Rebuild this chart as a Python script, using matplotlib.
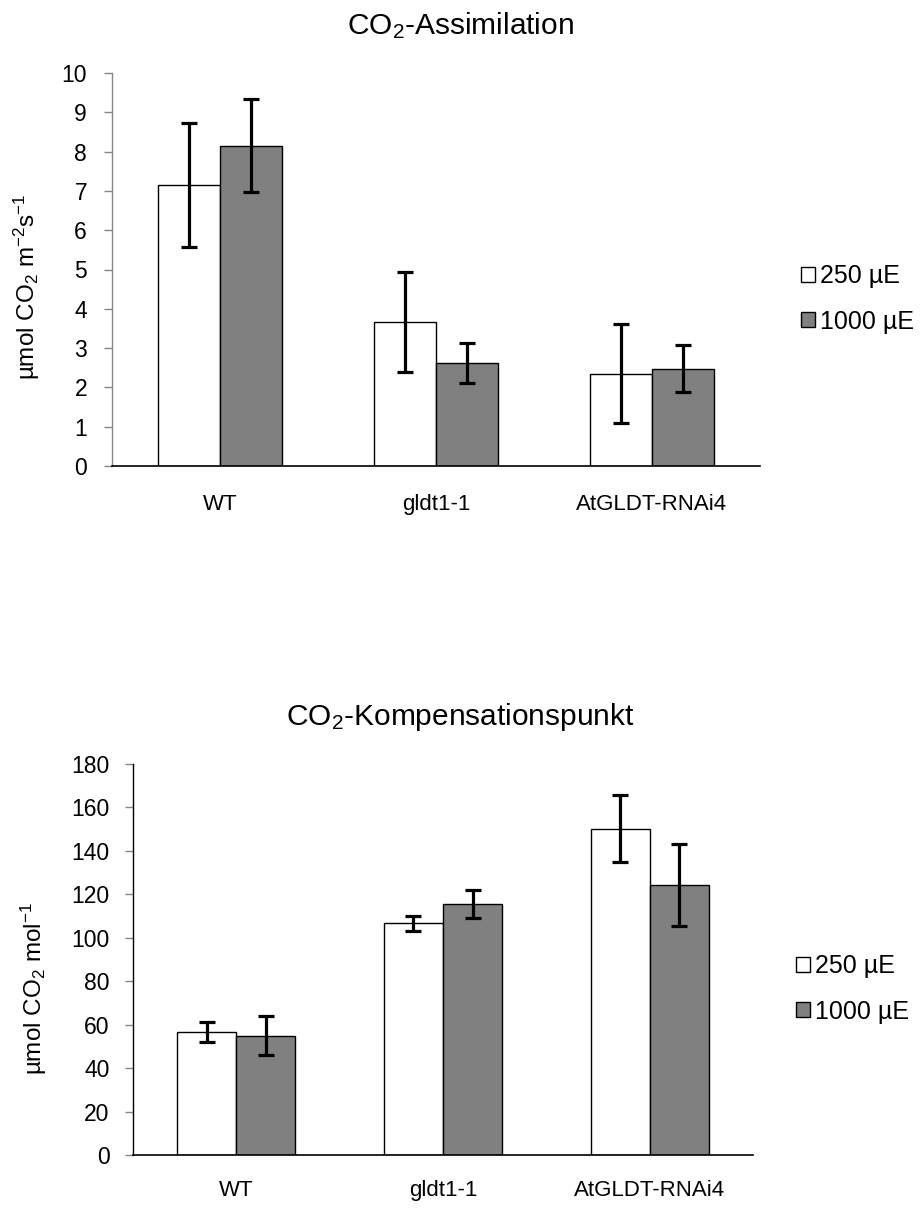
import matplotlib
matplotlib.use("Agg")
import matplotlib.pyplot as plt
from matplotlib.patches import Patch
import numpy as np

plt.rcParams['font.family'] = ['Liberation Sans', 'DejaVu Sans']
plt.rcParams['mathtext.fontset'] = 'custom'
plt.rcParams['mathtext.rm'] = 'Liberation Sans'
plt.rcParams['mathtext.it'] = 'Liberation Sans:italic'
plt.rcParams['mathtext.bf'] = 'Liberation Sans:bold'

categories = ["WT", "gldt1-1", "AtGLDT-RNAi4"]
series_names = ["250 µE", "1000 µE"]

# CO2 assimilation
assim_250 = [7.16, 3.67, 2.35]
assim_250_err = [1.58, 1.27, 1.26]
assim_1000 = [8.15, 2.62, 2.48]
assim_1000_err = [1.18, 0.51, 0.60]

# CO2 compensation point
comp_250 = [56.7, 106.6, 150.2]
comp_250_err = [4.5, 3.5, 15.4]
comp_1000 = [55.0, 115.5, 124.4]
comp_1000_err = [8.9, 6.4, 18.9]

colors = ["white", "#808080"]
W, H = 921, 1209
fig = plt.figure(figsize=(W / 100, H / 100), dpi=100)

def panel(rect, v1, e1, v2, e2, ymax, step, yaxis_color, title, title_y, ylabel, ylab_x, ylab_y, leg_x, leg_y, xpad, ypad):
    ax = fig.add_axes(rect)
    x = np.arange(len(categories))
    w = 0.2857
    for i, (v, e) in enumerate([(v1, e1), (v2, e2)]):
        ax.bar(x + (i - 0.5) * w, v, width=w, color=colors[i], edgecolor="black",
               linewidth=1.0, zorder=2)
        ax.errorbar(x + (i - 0.5) * w, v, yerr=e, fmt="none", ecolor="black",
                    elinewidth=2.3, capsize=6, capthick=2.3, zorder=3)
    ax.set_xlim(-0.5, len(categories) - 0.5)
    ax.set_ylim(0, ymax)
    ax.set_yticks(np.arange(0, ymax + step / 2, step))
    ax.set_xticks(x)
    ax.set_xticklabels(categories, fontsize=16)
    ax.tick_params(axis="x", length=0, pad=xpad)
    ax.tick_params(axis="y", length=6, width=1, color="#868686", labelsize=16.5, pad=ypad)
    for s in ["top", "right"]:
        ax.spines[s].set_visible(False)
    ax.spines["left"].set_color(yaxis_color)
    ax.spines["left"].set_linewidth(1.0)
    ax.spines["bottom"].set_color("black")
    ax.spines["bottom"].set_linewidth(1.2)
    ax.set_ylabel(ylabel, fontsize=17.5)
    ax.yaxis.set_label_coords(ylab_x, ylab_y)
    fig.text(460 / W, 1 - title_y / H, title, fontsize=21.5, ha="center", va="center")
    handles = [Patch(facecolor=colors[i], edgecolor="black", linewidth=1.0, label=series_names[i])
               for i in range(2)]
    fig.legend(handles=handles, loc="center left", bbox_to_anchor=(leg_x / W, 1 - leg_y / H),
               frameon=False, fontsize=18, handlelength=0.56, handleheight=0.56,
               handletextpad=0.2, labelspacing=0.85, borderpad=0, borderaxespad=0)
    return ax

panel([112 / W, 1 - 466 / H, 648 / W, 393 / H], assim_250, assim_250_err, assim_1000, assim_1000_err,
      10, 1, "#868686", "CO$\\mathregular{_2}$-Assimilation", 26,
      "µmol CO$\\mathregular{_2}$ m$\\mathregular{^{-2}}$s$\\mathregular{^{-1}}$", -0.108, 0.455,
      801, 299, 20, 12)

panel([133 / W, 1 - 1155 / H, 620 / W, 391 / H], comp_250, comp_250_err, comp_1000, comp_1000_err,
      180, 20, "black", "CO$\\mathregular{_2}$-Kompensationspunkt", 717,
      "µmol CO$\\mathregular{_2}$ mol$\\mathregular{^{-1}}$", -0.135, 0.425,
      796, 989, 18, 11)

fig.savefig("out.png", dpi=100)
